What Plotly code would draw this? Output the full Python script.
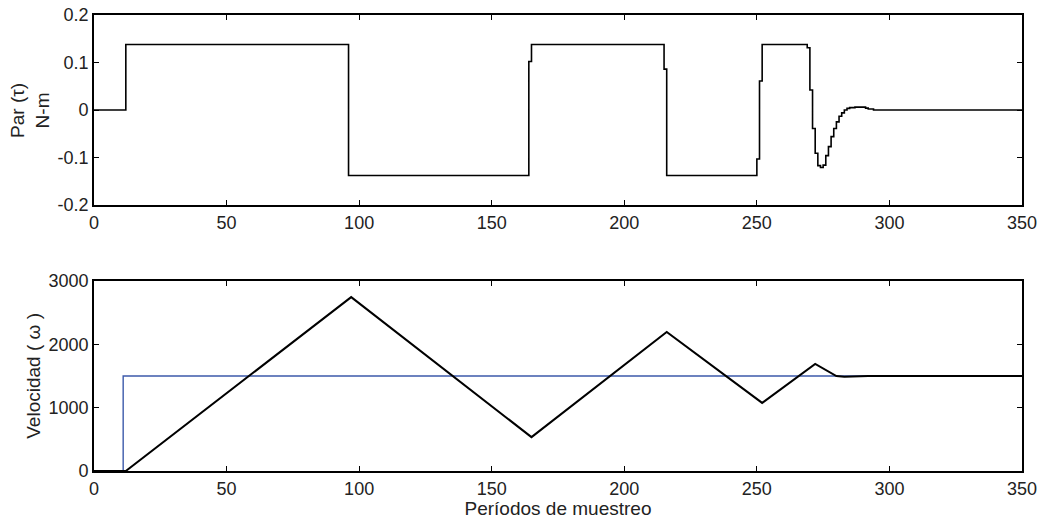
import plotly.graph_objects as go

# ---- data ----
# Torque (staircase, sample-and-hold), breakpoints in sampling periods
tau_k = [0, 12, 96, 164, 165, 215, 216, 250, 251, 252, 269, 270, 271, 272, 273,
         274, 275, 276, 277, 278, 279, 280, 281, 282, 283, 284, 285, 287, 291,
         292, 294, 350]
tau_val = [0, 0.138, -0.138, 0.102, 0.138, 0.086, -0.138, -0.103, 0.061, 0.138,
           0.131, 0.042, -0.039, -0.091, -0.117, -0.121, -0.116, -0.096, -0.077,
           -0.056, -0.039, -0.025, -0.013, -0.006, 0.0, 0.0035, 0.005, 0.006,
           0.004, 0.002, 0.0, 0.0]

# Speed response (vertices)
w_k = [0, 12, 97, 165, 216, 252, 272, 280, 283, 286, 292, 350]
w_val = [0, 0, 2745, 535, 2195, 1075, 1690, 1500, 1488, 1490, 1500, 1500]

# Speed reference (step)
ref_k = [0, 11, 350]
ref_val = [0, 1500, 1500]

x_ticks = [0, 50, 100, 150, 200, 250, 300, 350]
y1_ticks = [-0.2, -0.1, 0, 0.1, 0.2]
y1_labels = ["-0.2", "-0.1", "0", "0.1", "0.2"]
y2_ticks = [0, 1000, 2000, 3000]

FONT = "Liberation Sans, Arial, sans-serif"
BLUE = "#3c5aab"
TXT = "#222"

fig = go.Figure()
fig.add_trace(go.Scatter(x=tau_k, y=tau_val, mode="lines", line_shape="hv",
                         line=dict(color="black", width=1.6),
                         xaxis="x", yaxis="y", showlegend=False))
fig.add_trace(go.Scatter(x=ref_k, y=ref_val, mode="lines", line_shape="hv",
                         line=dict(color=BLUE, width=1.4),
                         xaxis="x2", yaxis="y2", showlegend=False))
fig.add_trace(go.Scatter(x=w_k, y=w_val, mode="lines",
                         line=dict(color="black", width=2.0),
                         xaxis="x2", yaxis="y2", showlegend=False))

axis_common = dict(showgrid=False, zeroline=False, showline=True, linecolor="black",
                   linewidth=1.8, mirror="allticks", ticks="inside", ticklen=5,
                   tickwidth=1, tickcolor="black", automargin=False,
                   tickfont=dict(family=FONT, size=18, color=TXT))

fig.update_layout(
    template="none",
    width=1042, height=519,
    margin=dict(l=94, r=20, t=15, b=48, autoexpand=False),
    paper_bgcolor="white", plot_bgcolor="white",
    font=dict(family=FONT, color=TXT),
    xaxis=dict(domain=[0, 1], anchor="y", range=[0, 350], tickvals=x_ticks, **axis_common),
    yaxis=dict(domain=[0.5833, 1], anchor="x", range=[-0.2, 0.2], tickvals=y1_ticks,
               ticktext=y1_labels, **axis_common),
    xaxis2=dict(domain=[0, 1], anchor="y2", range=[0, 350], tickvals=x_ticks,
                title=dict(text="Períodos de muestreo", font=dict(family=FONT, size=19, color=TXT),
                           standoff=0),
                **axis_common),
    yaxis2=dict(domain=[0, 0.4167], anchor="x2", range=[0, 3000], tickvals=y2_ticks, **axis_common),
    annotations=[
        dict(text="Par (τ)<br>N-m", xref="paper", yref="paper", x=-0.069, y=0.7917,
             xanchor="center", yanchor="middle", textangle=-90, showarrow=False,
             font=dict(family=FONT, size=19, color=TXT)),
        dict(text="Velocidad ( ω )", xref="paper", yref="paper", x=-0.066, y=0.2083,
             xanchor="center", yanchor="middle", textangle=-90, showarrow=False,
             font=dict(family=FONT, size=19, color=TXT)),
    ],
)

fig.write_html("out.html", config={"displayModeBar": False},
               post_script="document.body.style.margin='0';document.body.style.overflow='hidden';")
